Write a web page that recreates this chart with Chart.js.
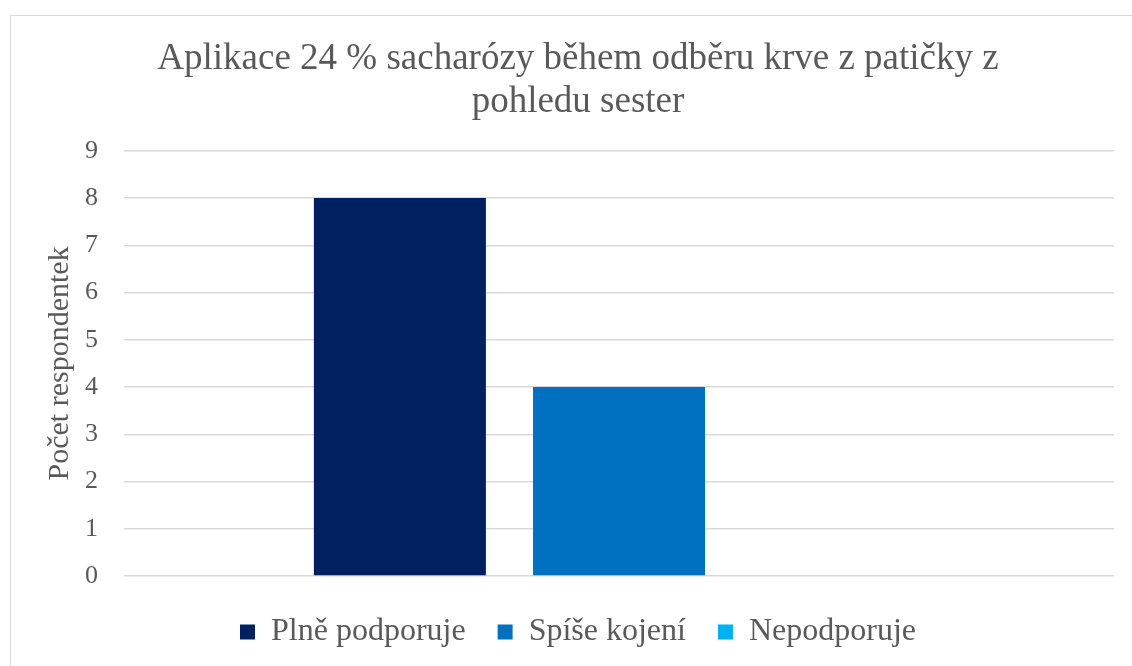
<!DOCTYPE html>
<html>
<head>
<meta charset="utf-8">
<script src="https://cdn.jsdelivr.net/npm/chart.js@4"></script>
<style>
  body { margin: 0; background: #fff; overflow: hidden; }
  #frame { position: absolute; left: 10px; top: 15px; width: 1200px; height: 700px; border: 1px solid #d9d9d9; }
  #chart { position: absolute; left: 0; top: 0; }
</style>
</head>
<body>
<div id="frame"></div>
<canvas id="chart" width="1132" height="666"></canvas>
<script>
// Chart data
const categories = [''];
const seriesNames = ['Plně podporuje', 'Spíše kojení', 'Nepodporuje'];
const seriesValues = [[8], [4], [0]];
const seriesColors = ['#002060', '#0070C0', '#00B0F0'];
const yTicks = [0, 1, 2, 3, 4, 5, 6, 7, 8, 9];

const textColor = '#595959';
const fontFamily = '"Liberation Serif", "Times New Roman", serif';

// Build datasets from the arrays
var datasets = [];
for (var i = 0; i < seriesNames.length; i++) {
    datasets.push({
        label: seriesNames[i],
        data: seriesValues[i],
        backgroundColor: seriesColors[i],
        categoryPercentage: 0.664,
        barPercentage: 0.785
    });
}

var ctx = document.getElementById('chart').getContext('2d');
var chart = new Chart(ctx, {
    type: 'bar',
    data: {
        labels: categories,
        datasets: datasets
    },
    options: {
        responsive: false,
        animation: false,
        layout: {
            padding: { left: 42, right: 18, top: 38, bottom: 8 }
        },
        plugins: {
            tooltip: { enabled: false },
            title: {
                display: true,
                text: ['Aplikace 24 % sacharózy během odběru krve z patičky z', 'pohledu sester'],
                color: textColor,
                font: { family: fontFamily, size: 37, weight: 'normal', lineHeight: 1.16 },
                padding: { top: 0, bottom: 27 }
            },
            legend: {
                position: 'bottom',
                labels: {
                    color: textColor,
                    font: { family: fontFamily, size: 32 },
                    boxWidth: 15,
                    boxHeight: 15,
                    padding: 32
                }
            }
        },
        scales: {
            x: {
                grid: { display: false },
                border: { display: false },
                ticks: { display: false }
            },
            y: {
                min: 0,
                max: 9,
                afterBuildTicks: function (scale) {
                    scale.ticks = yTicks.map(v => ({ value: v }));
                },
                afterFit: function (scale) {
                    scale.width = 82;
                },
                grid: { color: '#d9d9d9', lineWidth: 1.5, drawTicks: false },
                border: { display: false },
                ticks: {
                    color: textColor,
                    font: { family: fontFamily, size: 26 },
                    padding: 26
                },
                title: {
                    display: true,
                    text: 'Počet respondentek',
                    color: textColor,
                    font: { family: fontFamily, size: 30 },
                    padding: 0
                }
            }
        }
    }
});
</script>
</body>
</html>
